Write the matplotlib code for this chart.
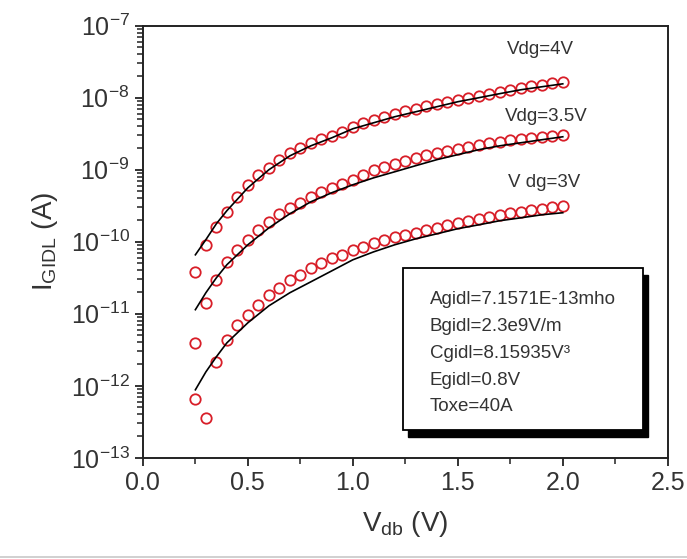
import numpy as np
import matplotlib
matplotlib.use('Agg')
import matplotlib.pyplot as plt
from matplotlib.patches import Rectangle
from matplotlib.lines import Line2D
from matplotlib.ticker import MultipleLocator, LogLocator, NullFormatter

plt.rcParams['font.family'] = ['Liberation Sans', 'DejaVu Sans']
plt.rcParams['mathtext.fontset'] = 'custom'
plt.rcParams['mathtext.rm'] = 'Liberation Sans'
plt.rcParams['mathtext.default'] = 'regular'

# measured points (Vdb step 0.05 V)
vdb = np.round(np.arange(0.25, 2.0001, 0.05), 2)
i_4v = [3.83e-11, 9.09e-11, 1.62e-10, 2.61e-10, 4.22e-10, 6.19e-10, 8.53e-10, 1.07e-9,
        1.38e-9, 1.72e-9, 2.02e-9, 2.37e-9, 2.70e-9, 2.97e-9, 3.37e-9, 3.95e-9,
        4.50e-9, 4.95e-9, 5.45e-9, 6.00e-9, 6.49e-9, 7.03e-9, 7.62e-9, 8.25e-9,
        8.80e-9, 9.38e-9, 1.00e-8, 1.07e-8, 1.14e-8, 1.21e-8, 1.29e-8, 1.38e-8,
        1.44e-8, 1.52e-8, 1.59e-8, 1.67e-8]
i_35v = [3.95e-12, 1.42e-11, 2.97e-11, 5.27e-11, 7.74e-11, 1.07e-10, 1.47e-10, 1.90e-10,
         2.45e-10, 2.97e-10, 3.48e-10, 4.22e-10, 4.95e-10, 5.62e-10, 6.39e-10, 7.26e-10,
         8.53e-10, 1.00e-9, 1.10e-9, 1.21e-9, 1.33e-9, 1.47e-9, 1.59e-9, 1.72e-9,
         1.84e-9, 1.96e-9, 2.09e-9, 2.23e-9, 2.34e-9, 2.45e-9, 2.57e-9, 2.70e-9,
         2.78e-9, 2.87e-9, 2.97e-9, 3.06e-9]
i_3v = [6.59e-13, 3.59e-13, 2.15e-12, 4.35e-12, 7.03e-12, 9.68e-12, 1.33e-11, 1.84e-11,
        2.30e-11, 2.97e-11, 3.48e-11, 4.35e-11, 5.11e-11, 6.00e-11, 6.59e-11, 7.74e-11,
        8.53e-11, 9.68e-11, 1.07e-10, 1.17e-10, 1.25e-10, 1.33e-10, 1.44e-10, 1.56e-10,
        1.69e-10, 1.84e-10, 1.96e-10, 2.09e-10, 2.23e-10, 2.37e-10, 2.49e-10, 2.61e-10,
        2.74e-10, 2.87e-10, 3.01e-10, 3.16e-10]

# model fit curves
v_fit = [0.25, 0.3, 0.35, 0.4, 0.5, 0.6, 0.7, 0.8, 0.9, 1.0, 1.1, 1.2, 1.3, 1.4,
         1.5, 1.6, 1.7, 1.8, 1.9, 2.0]
fit_4v = [6.59e-11, 1.07e-10, 1.78e-10, 2.70e-10, 5.62e-10, 1.0e-9, 1.56e-9, 2.15e-9,
          2.78e-9, 3.71e-9, 4.50e-9, 5.45e-9, 6.39e-9, 7.50e-9, 8.80e-9, 1.0e-8,
          1.14e-8, 1.29e-8, 1.42e-8, 1.56e-8]
fit_35v = [1.14e-11, 1.96e-11, 3.16e-11, 4.80e-11, 9.09e-11, 1.56e-10, 2.45e-10, 3.59e-10,
           4.80e-10, 6.19e-10, 7.74e-10, 9.38e-10, 1.14e-9, 1.38e-9, 1.62e-9, 1.90e-9,
           2.15e-9, 2.37e-9, 2.61e-9, 2.87e-9]
fit_3v = [8.80e-13, 1.56e-12, 2.53e-12, 3.95e-12, 7.50e-12, 1.29e-11, 1.96e-11, 2.78e-11,
          3.95e-11, 5.62e-11, 7.26e-11, 9.09e-11, 1.10e-10, 1.29e-10, 1.52e-10, 1.72e-10,
          1.96e-10, 2.15e-10, 2.37e-10, 2.53e-10]

curve_labels = ['Vdg=4V', 'Vdg=3.5V', 'V dg=3V']
params = ['Agidl=7.1571E-13mho', 'Bgidl=2.3e9V/m', 'Cgidl=8.15935V\u00b3',
          'Egidl=0.8V', 'Toxe=40A']

fig = plt.figure(figsize=(6.87, 5.59), dpi=100)
ax = fig.add_axes([0.208, 0.181, 0.764, 0.773])

for meas, fit in [(i_4v, fit_4v), (i_35v, fit_35v), (i_3v, fit_3v)]:
    ax.plot(vdb, meas, 'o', ms=7.5, mfc='none', mec='#d81e28', mew=1.3, zorder=2)
    ax.plot(v_fit, fit, '-', color='black', lw=1.2, zorder=3)

ax.set_yscale('log')
ax.set_xlim(0, 2.5)
ax.set_ylim(1e-13, 1e-7)
ax.xaxis.set_major_locator(MultipleLocator(0.5))
ax.xaxis.set_minor_locator(MultipleLocator(0.25))
ax.yaxis.set_major_locator(LogLocator(base=10, numticks=20))
ax.yaxis.set_minor_locator(LogLocator(base=10, subs=np.arange(2, 10), numticks=20))
ax.yaxis.set_minor_formatter(NullFormatter())
ax.xaxis.set_major_formatter(plt.FuncFormatter(lambda v, p: '%.1f' % v))
ax.tick_params(which='both', direction='out', color='#222222', labelcolor='#333333',
               labelsize=18, top=False, right=False)
ax.tick_params(which='major', length=6, width=1.3)
ax.tick_params(which='minor', length=4, width=1.1)
for s in ax.spines.values():
    s.set_linewidth(1.4)
    s.set_color('#222222')

ax.set_xlabel(r'V$_{\rm db}$ (V)', fontsize=20, color='#333333', labelpad=10)
ax.set_ylabel(r'I$_{\rm GIDL}$ (A)', fontsize=20, color='#333333', labelpad=8)

for txt, (tx, ty) in zip(curve_labels, [(0.693, 0.944), (0.690, 0.789), (0.695, 0.637)]):
    ax.text(tx, ty, txt, transform=ax.transAxes, fontsize=13.5, color='#333333',
            ha='left', va='center')

# parameter box with drop shadow
ax.add_patch(Rectangle((0.506, 0.049), 0.457, 0.375, transform=ax.transAxes,
                       facecolor='black', edgecolor='black', zorder=4))
ax.add_patch(Rectangle((0.495, 0.065), 0.457, 0.375, transform=ax.transAxes,
                       facecolor='white', edgecolor='black', lw=1.3, zorder=5))
for k, p in enumerate(params):
    ax.text(0.547, 0.366 - k * 0.062, p, transform=ax.transAxes, fontsize=13.5,
            color='#333333', ha='left', va='center', zorder=6)

fig.add_artist(Line2D([0, 1], [0.003, 0.003], color='#c8c8c8', lw=1.2))

fig.savefig('out.png', dpi=100)
